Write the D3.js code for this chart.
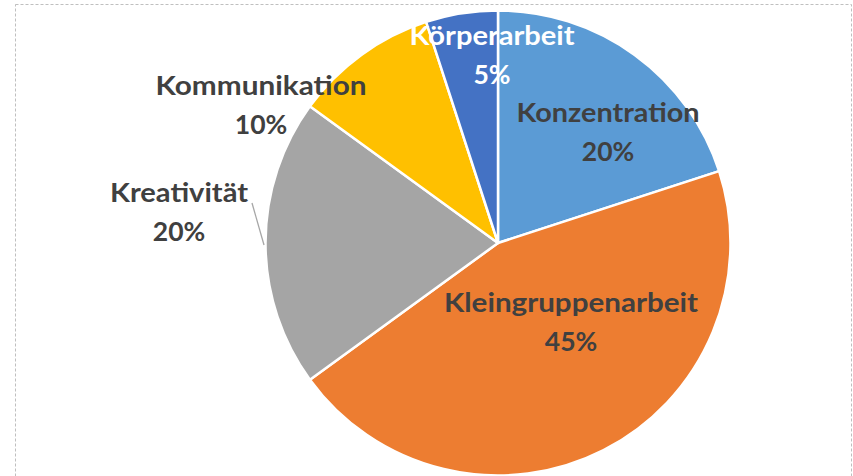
<!DOCTYPE html>
<html>
<head>
<meta charset="utf-8">
<script src="https://cdn.jsdelivr.net/npm/d3@7/dist/d3.min.js"></script>
<style>
  html, body { margin: 0; padding: 0; background: #fff; }
  svg { display: block; }
</style>
</head>
<body>
<svg id="chart" width="853" height="476"></svg>
<script>
const categories = ["Konzentration", "Kleingruppenarbeit", "Kreativität", "Kommunikation", "Körperarbeit"];
const values = [20, 45, 20, 10, 5];
const percentLabels = ["20%", "45%", "20%", "10%", "5%"];
const colors = ["#5B9BD5", "#ED7D31", "#A5A5A5", "#FFC000", "#4472C4"];
// label anchor (centre of the name line), in pixels
const labelPos = [[608, 122], [571, 312], [179, 202], [261, 95], [492, 45]];
const labelWidths = [183, 254, 138, 211, 165];
const labelColors = ["#404040", "#404040", "#404040", "#404040", "#FFFFFF"];

const svg = d3.select("#chart");

// chart frame
svg.append("rect")
  .attr("x", 15.5).attr("y", 4.5)
  .attr("width", 836).attr("height", 480)
  .attr("fill", "#fff")
  .attr("stroke", "#BFBFBF")
  .attr("stroke-width", 1)
  .attr("stroke-dasharray", "3,2");

const cx = 498, cy = 243, r = 232.5;
const data = categories.map((c, i) => ({ name: c, value: values[i], pct: percentLabels[i], color: colors[i], i }));

const pie = d3.pie().sort(null).value(d => d.value).startAngle(0).endAngle(2 * Math.PI);
const arc = d3.arc().innerRadius(0).outerRadius(r);

const g = svg.append("g").attr("transform", `translate(${cx},${cy})`);
g.selectAll("path")
  .data(pie(data))
  .join("path")
  .attr("d", arc)
  .attr("fill", d => d.data.color)
  .attr("stroke", "#fff")
  .attr("stroke-width", 2.5)
  .attr("stroke-linejoin", "round");

// leader line for Kreativität
svg.append("line")
  .attr("x1", 252).attr("y1", 203)
  .attr("x2", 264).attr("y2", 245)
  .attr("stroke", "#A6A6A6")
  .attr("stroke-width", 1.3);

const labels = svg.append("g")
  .attr("font-family", "Lato, 'Open Sans', sans-serif")
  .attr("font-weight", "bold")
  .attr("font-size", 26.5)
  .attr("text-anchor", "middle");

data.forEach((d, i) => {
  const [x, y] = labelPos[i];
  labels.append("text")
    .attr("x", x).attr("y", y)
    .attr("fill", labelColors[i])
    .attr("textLength", labelWidths[i])
    .attr("lengthAdjust", "spacingAndGlyphs")
    .text(d.name);
  labels.append("text")
    .attr("x", x).attr("y", y + 39)
    .attr("fill", labelColors[i])
    .text(d.pct);
});
</script>
</body>
</html>
